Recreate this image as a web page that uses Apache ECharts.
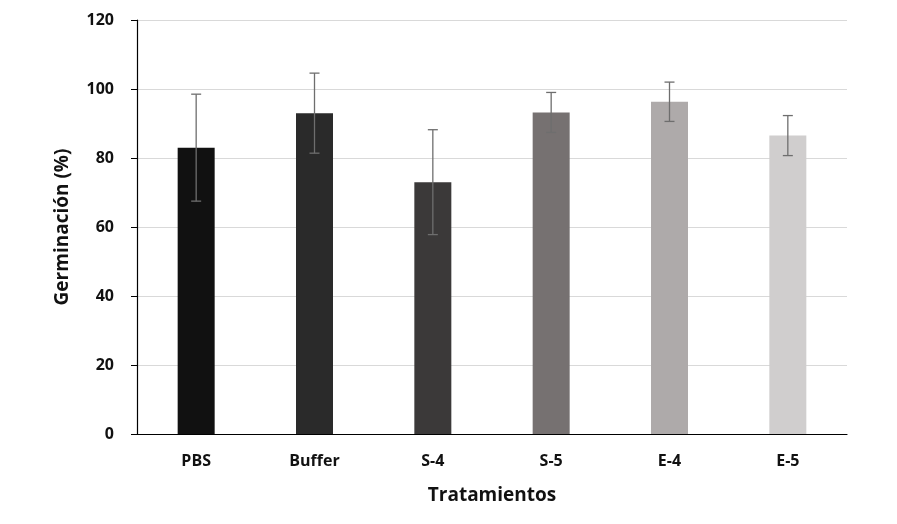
<!DOCTYPE html>
<html>
<head>
<meta charset="utf-8">
<script src="https://cdn.jsdelivr.net/npm/echarts@6/dist/echarts.min.js"></script>
<style>html,body{margin:0;padding:0;background:#fff;}#c{width:897px;height:524px;}</style>
</head>
<body>
<div id="c"></div>
<script>
const categories = ['PBS', 'Buffer', 'S-4', 'S-5', 'E-4', 'E-5'];
const values = [83, 93, 73, 93.2, 96.3, 86.5];
const errors = [15.5, 11.6, 15.2, 5.8, 5.7, 5.8];
const colors = ['#111111', '#2a2a2a', '#3b3939', '#767171', '#aeaaaa', '#d0cece'];
const yTicks = [0, 20, 40, 60, 80, 100, 120];

const chart = echarts.init(document.getElementById('c'));
const font = '"Open Sans", "DejaVu Sans", sans-serif';
chart.setOption({
  animation: false,
  grid: { left: 137, right: 50, top: 20, bottom: 90 },
  xAxis: {
    type: 'category',
    data: categories,
    name: 'Tratamientos',
    nameLocation: 'middle',
    nameGap: 52,
    nameTextStyle: { fontFamily: font, fontWeight: 'bold', fontSize: 19, color: '#111' },
    axisLine: { lineStyle: { color: '#000', width: 1.2 } },
    axisTick: { show: false },
    axisLabel: { fontFamily: font, fontWeight: 'bold', fontSize: 16, color: '#111', margin: 19 }
  },
  yAxis: {
    type: 'value',
    min: yTicks[0],
    max: yTicks[yTicks.length - 1],
    interval: 20,
    name: 'Germinación (%)',
    nameLocation: 'middle',
    nameGap: 65,
    nameTextStyle: { fontFamily: font, fontWeight: 'bold', fontSize: 19, color: '#111' },
    axisLine: { show: true, lineStyle: { color: '#000', width: 1.2 } },
    axisTick: { show: true, length: 6, lineStyle: { color: '#000' } },
    axisLabel: { fontFamily: font, fontWeight: 'bold', fontSize: 16, color: '#111', margin: 23 },
    splitLine: { lineStyle: { color: '#d9d9d9', width: 1.2 } }
  },
  series: [
    {
      type: 'bar',
      data: values.map((v, i) => ({ value: v, itemStyle: { color: colors[i] } })),
      barWidth: 37
    },
    {
      type: 'custom',
      z: 10,
      data: values.map((v, i) => [i, v - errors[i], v + errors[i]]),
      renderItem: function (params, api) {
        const x = api.value(0);
        const lo = api.coord([x, api.value(1)]);
        const hi = api.coord([x, api.value(2)]);
        const hw = 5;
        const style = { stroke: '#6e6e6e', lineWidth: 1.3 };
        return {
          type: 'group',
          children: [
            { type: 'line', shape: { x1: lo[0], y1: lo[1], x2: hi[0], y2: hi[1] }, style: style },
            { type: 'line', shape: { x1: hi[0] - hw, y1: hi[1], x2: hi[0] + hw, y2: hi[1] }, style: style },
            { type: 'line', shape: { x1: lo[0] - hw, y1: lo[1], x2: lo[0] + hw, y2: lo[1] }, style: style }
          ]
        };
      }
    }
  ]
});
</script>
</body>
</html>
